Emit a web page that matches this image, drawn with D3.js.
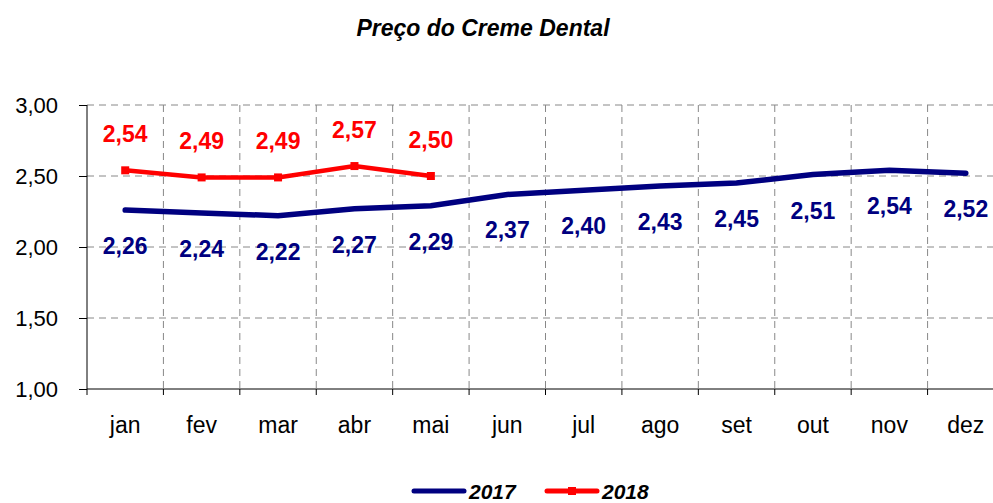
<!DOCTYPE html>
<html>
<head>
<meta charset="utf-8">
<script src="https://cdnjs.cloudflare.com/ajax/libs/d3/7.8.5/d3.min.js"></script>
<style>
  body { margin: 0; background: #fff; }
  svg { display: block; font-family: "Liberation Sans", Arial, sans-serif; }
</style>
</head>
<body>
<svg id="chart" width="993" height="503"></svg>
<script>
// data
const months = ["jan", "fev", "mar", "abr", "mai", "jun", "jul", "ago", "set", "out", "nov", "dez"];
const values2017 = [2.26, 2.24, 2.22, 2.27, 2.29, 2.37, 2.40, 2.43, 2.45, 2.51, 2.54, 2.52];
const values2018 = [2.54, 2.49, 2.49, 2.57, 2.50];
const yTicks = [1.0, 1.5, 2.0, 2.5, 3.0];

const fmt = v => v.toFixed(2).replace(".", ",");

const svg = d3.select("#chart");
const margin = { left: 87, top: 105 };
const plotW = 917, plotH = 284;

const g = svg.append("g").attr("transform", `translate(${margin.left},${margin.top})`);

const x = d3.scaleBand().domain(months).range([0, plotW]);
const y = d3.scaleLinear().domain([1, 3]).range([plotH, 0]);

// title
svg.append("text")
    .attr("x", 483).attr("y", 36)
    .attr("text-anchor", "middle")
    .style("font-size", "23px").style("font-weight", "bold").style("font-style", "italic")
    .text("Preço do Creme Dental");

// horizontal grid
g.append("g").selectAll("line")
    .data(yTicks.filter(d => d > 1))
    .enter().append("line")
    .attr("x1", 0).attr("x2", plotW)
    .attr("y1", d => y(d)).attr("y2", d => y(d))
    .attr("stroke", "#888").attr("stroke-dasharray", "7,5");

// vertical grid at category boundaries
g.append("g").selectAll("line")
    .data(months.slice(1))
    .enter().append("line")
    .attr("x1", d => x(d)).attr("x2", d => x(d))
    .attr("y1", 0).attr("y2", plotH)
    .attr("stroke", "#888").attr("stroke-dasharray", "7,5");

// y axis
const yAxis = g.append("g")
    .call(d3.axisLeft(y).tickValues(yTicks).tickSize(8).tickPadding(21).tickFormat(fmt));
yAxis.select(".domain").attr("stroke", "#000").attr("d", `M0,0V${plotH}`);
yAxis.selectAll("text").style("font-size", "22px").attr("fill", "#000");

// x axis
const xAxis = g.append("g").attr("transform", `translate(0,${plotH})`)
    .call(d3.axisBottom(x).tickSize(0).tickPadding(28));
xAxis.select(".domain").attr("d", `M0,0H${plotW}`);
xAxis.selectAll("text").style("font-size", "23px").attr("fill", "#000");
xAxis.selectAll(".bound").data(months).enter().append("line")
    .attr("x1", d => x(d)).attr("x2", d => x(d))
    .attr("y1", 0).attr("y2", 6).attr("stroke", "#000");

const cx = (d, i) => x(months[i]) + x.bandwidth() / 2;

const line = d3.line().x(cx).y(d => y(d));

// 2017
g.append("path").datum(values2017)
    .attr("d", line).attr("fill", "none")
    .attr("stroke", "#000080").attr("stroke-width", 5.5).attr("stroke-linecap", "round");

// 2018
g.append("path").datum(values2018)
    .attr("d", line).attr("fill", "none")
    .attr("stroke", "#ff0000").attr("stroke-width", 4.5);
g.selectAll(".m18").data(values2018).enter().append("rect")
    .attr("x", (d, i) => cx(d, i) - 4).attr("y", d => y(d) - 4)
    .attr("width", 8).attr("height", 8).attr("fill", "#ff0000");

// labels
g.selectAll(".l17").data(values2017).enter().append("text")
    .attr("x", cx).attr("y", d => y(d) + 44)
    .attr("text-anchor", "middle")
    .style("font-size", "23px").style("font-weight", "bold").attr("fill", "#000080")
    .text(fmt);

g.selectAll(".l18").data(values2018).enter().append("text")
    .attr("x", cx).attr("y", d => y(d) - 28)
    .attr("text-anchor", "middle")
    .style("font-size", "23px").style("font-weight", "bold").attr("fill", "#ff0000")
    .text(fmt);

// legend
const legend = svg.append("g").attr("transform", "translate(0,491)");
const items = [
    { name: "2017", color: "#000080", x: 414, marker: false },
    { name: "2018", color: "#ff0000", x: 547, marker: true }
];
items.forEach(it => {
    legend.append("line")
        .attr("x1", it.x).attr("x2", it.x + 50)
        .attr("stroke", it.color).attr("stroke-width", 5).attr("stroke-linecap", "round");
    if (it.marker) {
        legend.append("rect").attr("x", it.x + 21).attr("y", -4)
            .attr("width", 8).attr("height", 8).attr("fill", it.color);
    }
    legend.append("text")
        .attr("x", it.x + 55).attr("y", 8)
        .style("font-size", "21px").style("font-weight", "bold").style("font-style", "italic")
        .text(it.name);
});
</script>
</body>
</html>
